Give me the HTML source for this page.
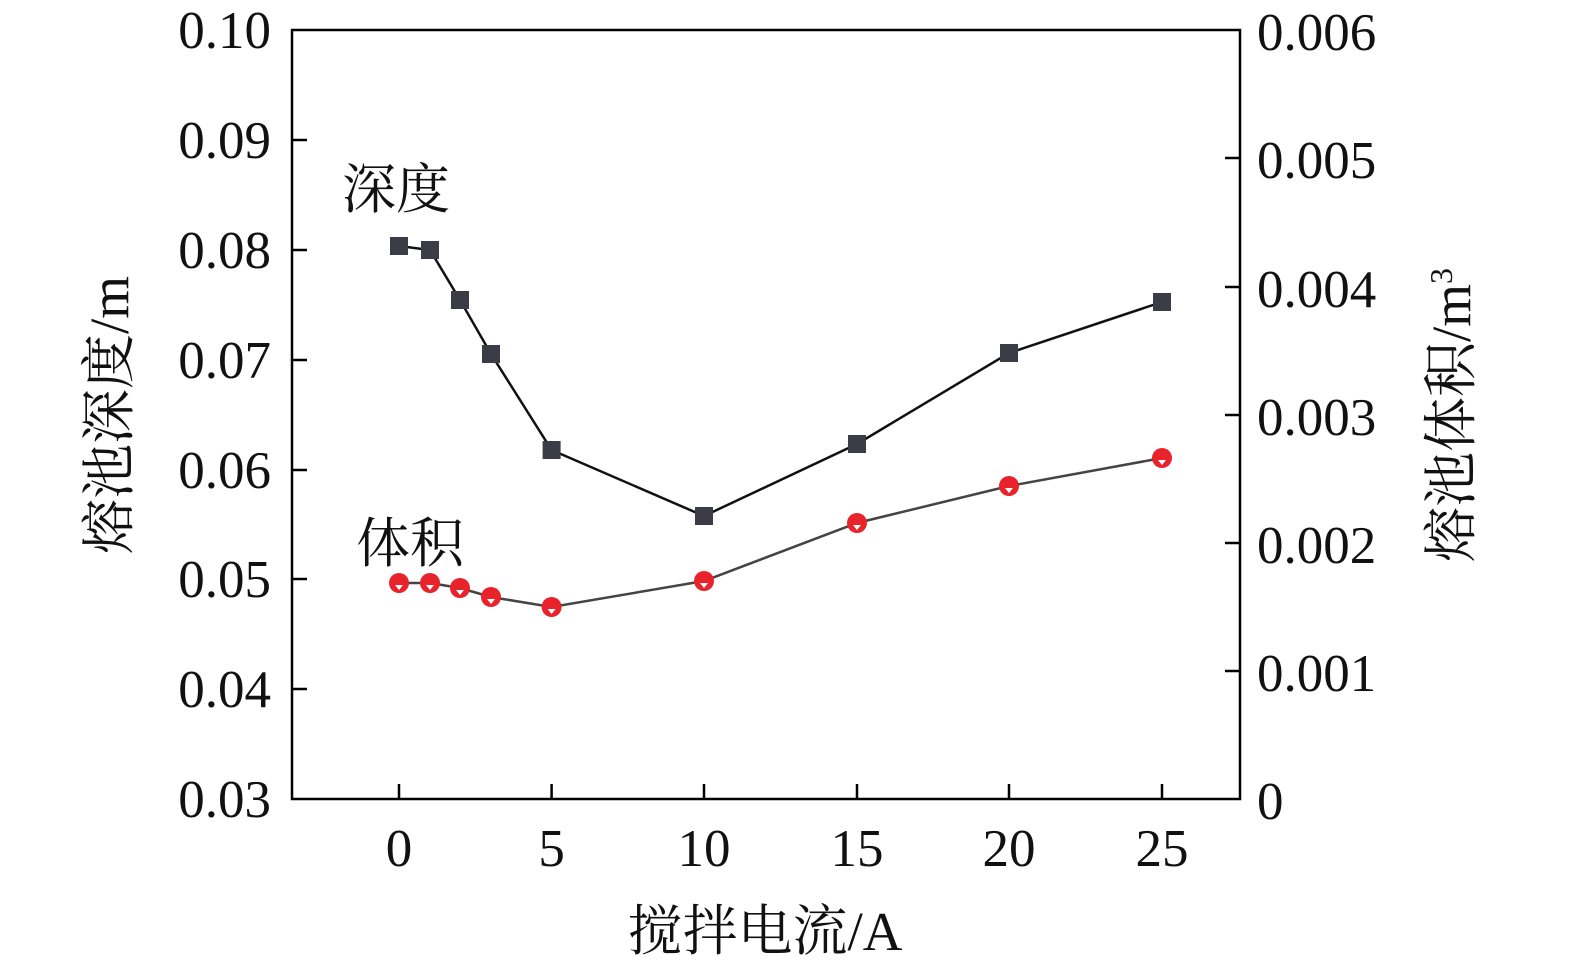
<!DOCTYPE html>
<html><head><meta charset="utf-8"><style>body{margin:0;background:#fff}</style></head><body>
<svg width="1575" height="972" xmlns="http://www.w3.org/2000/svg" font-family="Liberation Serif, Noto Serif CJK SC, serif">
<rect width="1575" height="972" fill="#fff"/>
<rect x="292" y="30" width="948" height="769" fill="none" stroke="#000" stroke-width="2.5"/>
<g stroke="#000" stroke-width="2.5">
<line x1="292" y1="140" x2="307" y2="140"/><line x1="292" y1="250" x2="307" y2="250"/><line x1="292" y1="360" x2="307" y2="360"/><line x1="292" y1="470" x2="307" y2="470"/><line x1="292" y1="579" x2="307" y2="579"/><line x1="292" y1="689" x2="307" y2="689"/>
<line x1="1225" y1="158" x2="1240" y2="158"/><line x1="1225" y1="287" x2="1240" y2="287"/><line x1="1225" y1="415" x2="1240" y2="415"/><line x1="1225" y1="543" x2="1240" y2="543"/><line x1="1225" y1="671" x2="1240" y2="671"/>
<line x1="399" y1="784" x2="399" y2="799"/><line x1="551.6" y1="784" x2="551.6" y2="799"/><line x1="704" y1="784" x2="704" y2="799"/><line x1="857" y1="784" x2="857" y2="799"/><line x1="1009" y1="784" x2="1009" y2="799"/><line x1="1162" y1="784" x2="1162" y2="799"/>
</g>
<g font-size="53" text-anchor="end" fill="#111">
<text x="271" y="48">0.10</text><text x="271" y="158">0.09</text><text x="271" y="268">0.08</text><text x="271" y="378">0.07</text><text x="271" y="488">0.06</text><text x="271" y="597">0.05</text><text x="271" y="707">0.04</text><text x="271" y="817">0.03</text>
</g>
<g font-size="53" text-anchor="start" fill="#111">
<text x="1257" y="50">0.006</text><text x="1257" y="178">0.005</text><text x="1257" y="307">0.004</text><text x="1257" y="435">0.003</text><text x="1257" y="563">0.002</text><text x="1257" y="691">0.001</text><text x="1257" y="819">0</text>
</g>
<g font-size="53" text-anchor="middle" fill="#111">
<text x="399" y="866">0</text><text x="551.6" y="866">5</text><text x="704" y="866">10</text><text x="857" y="866">15</text><text x="1009" y="866">20</text><text x="1162" y="866">25</text>
</g>
<text x="765" y="950" font-size="55" text-anchor="middle" fill="#111">搅拌电流/A</text>
<text transform="translate(128,415) rotate(-90)" font-size="55" text-anchor="middle" fill="#111">熔池深度/m</text>
<text transform="translate(1470,415) rotate(-90)" font-size="55" text-anchor="middle" fill="#111">熔池体积/m<tspan font-size="32" dy="-18">3</tspan></text>
<text x="342" y="208" font-size="54" fill="#111">深度</text>
<text x="356" y="562" font-size="54" fill="#111">体积</text>
<polyline fill="none" stroke="#111" stroke-width="2.5" points="399,246 430,250 460,300 491,354 551.6,450 704,516 857,444 1009,353 1162,302"/>
<g fill="#3a3d45">
<rect x="390" y="237" width="18" height="18"/><rect x="421" y="241" width="18" height="18"/><rect x="451" y="291" width="18" height="18"/><rect x="482" y="345" width="18" height="18"/><rect x="542.6" y="441" width="18" height="18"/><rect x="695" y="507" width="18" height="18"/><rect x="848" y="435" width="18" height="18"/><rect x="1000" y="344" width="18" height="18"/><rect x="1153" y="293" width="18" height="18"/>
</g>
<polyline fill="none" stroke="#444" stroke-width="2.5" points="399,583 430,583 460,588 491,597 551.6,607 704,581 857,523 1009,486 1162,458"/>
<g fill="#e8232b">
<circle cx="399" cy="583" r="10"/><circle cx="430" cy="583" r="10"/><circle cx="460" cy="588" r="10"/><circle cx="491" cy="597" r="10"/><circle cx="551.6" cy="607" r="10"/><circle cx="704" cy="581" r="10"/><circle cx="857" cy="523" r="10"/><circle cx="1009" cy="486" r="10"/><circle cx="1162" cy="458" r="10"/>
</g>
<g fill="#fff">
<polygon points="395,585 403,585 399,590"/><polygon points="426,585 434,585 430,590"/><polygon points="456,590 464,590 460,595"/><polygon points="487,599 495,599 491,604"/><polygon points="547.6,609 555.6,609 551.6,614"/><polygon points="700,583 708,583 704,588"/><polygon points="853,525 861,525 857,530"/><polygon points="1005,488 1013,488 1009,493"/><polygon points="1158,460 1166,460 1162,465"/>
</g>
</svg>
</body></html>
